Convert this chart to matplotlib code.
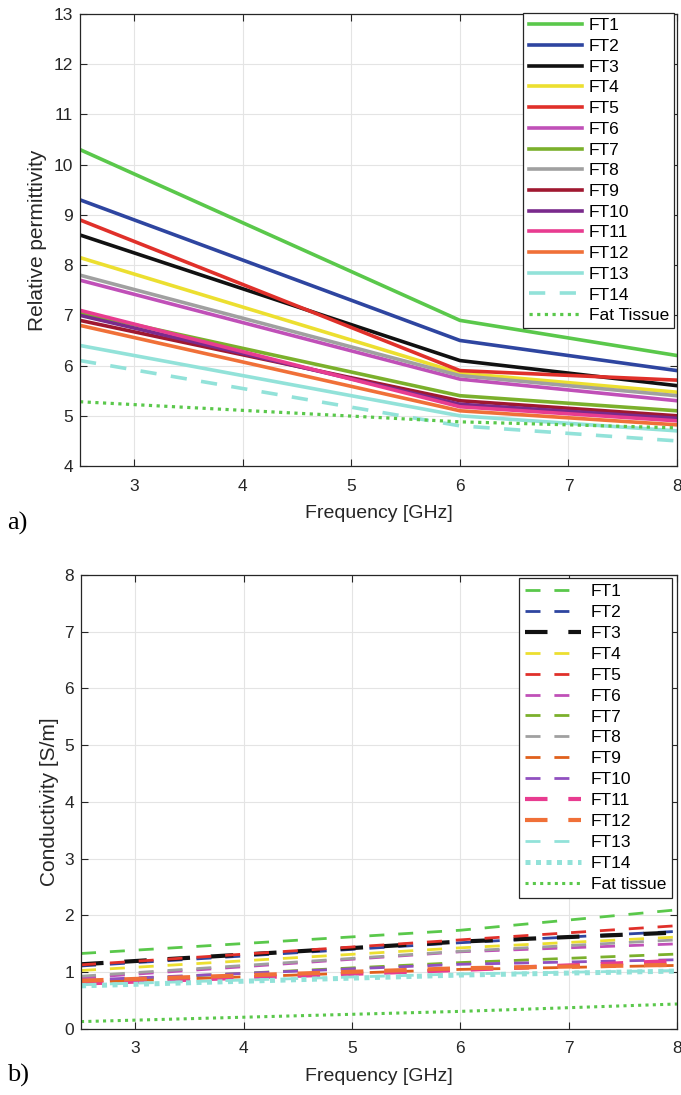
import matplotlib
matplotlib.use("Agg")
import matplotlib.pyplot as plt

plt.rcParams['font.family'] = ['Liberation Sans', 'DejaVu Sans']

freq = [2.5, 6, 8]
labels_top = ["FT1", "FT2", "FT3", "FT4", "FT5", "FT6", "FT7", "FT8", "FT9",
              "FT10", "FT11", "FT12", "FT13", "FT14", "Fat Tissue"]
labels_bot = ["FT1", "FT2", "FT3", "FT4", "FT5", "FT6", "FT7", "FT8", "FT9",
              "FT10", "FT11", "FT12", "FT13", "FT14", "Fat tissue"]

# Relative permittivity
perm_ft1 = [10.3, 6.9, 6.2]
perm_ft2 = [9.3, 6.5, 5.9]
perm_ft3 = [8.6, 6.1, 5.6]
perm_ft4 = [8.15, 5.85, 5.47]
perm_ft5 = [8.9, 5.9, 5.71]
perm_ft6 = [7.7, 5.73, 5.3]
perm_ft7 = [7.05, 5.4, 5.1]
perm_ft8 = [7.8, 5.8, 5.4]
perm_ft9 = [6.9, 5.3, 5.0]
perm_ft10 = [7.0, 5.23, 4.95]
perm_ft11 = [7.1, 5.18, 4.9]
perm_ft12 = [6.8, 5.1, 4.82]
perm_ft13 = [6.4, 5.0, 4.7]
perm_ft14 = [6.1, 4.8, 4.5]
perm_fat = [5.28, 4.88, 4.76]

# Conductivity
cond_ft1 = [1.33, 1.74, 2.10]
cond_ft2 = [1.11, 1.52, 1.72]
cond_ft3 = [1.14, 1.54, 1.70]
cond_ft4 = [1.03, 1.43, 1.62]
cond_ft5 = [1.13, 1.57, 1.82]
cond_ft6 = [0.90, 1.36, 1.50]
cond_ft7 = [0.84, 1.17, 1.32]
cond_ft8 = [0.93, 1.37, 1.57]
cond_ft9 = [0.82, 1.05, 1.12]
cond_ft10 = [0.86, 1.14, 1.22]
cond_ft11 = [0.80, 1.04, 1.20]
cond_ft12 = [0.85, 1.07, 1.13]
cond_ft13 = [0.78, 0.97, 1.03]
cond_ft14 = [0.76, 0.95, 1.02]
cond_fat = [0.13, 0.31, 0.44]

perm = [perm_ft1, perm_ft2, perm_ft3, perm_ft4, perm_ft5, perm_ft6, perm_ft7, perm_ft8,
        perm_ft9, perm_ft10, perm_ft11, perm_ft12, perm_ft13, perm_ft14, perm_fat]
cond = [cond_ft1, cond_ft2, cond_ft3, cond_ft4, cond_ft5, cond_ft6, cond_ft7, cond_ft8,
        cond_ft9, cond_ft10, cond_ft11, cond_ft12, cond_ft13, cond_ft14, cond_fat]

colors_top = ['#5ac84b', '#2e45a0', '#111111', '#ecdf30', '#e0302a', '#c050b8',
              '#7bb02c', '#a0a0a0', '#a01830', '#7a2a8c', '#e83c90', '#f07038',
              '#92e2d9', '#92e2d9', '#5ac84b']
colors_bot = ['#5ac84b', '#2e45a0', '#111111', '#ecdf30', '#e0302a', '#c050b8',
              '#7bb02c', '#a0a0a0', '#e0601c', '#9050c0', '#e83c90', '#f07038',
              '#92e2d9', '#92e2d9', '#5ac84b']

fig = plt.figure(figsize=(6.81, 10.95), dpi=100)
ax1 = fig.add_axes([0.1175, 0.5744, 0.8767, 0.4128])
ax2 = fig.add_axes([0.1190, 0.0603, 0.8752, 0.4146])

dash_top = (0, (4.5, 4.0))
for i in range(15):
    if i == 13:
        ls, lw = dash_top, 2.6
    elif i == 14:
        ls, lw = (0, (1, 1.4)), 2.3
    else:
        ls, lw = '-', 2.6
    ax1.plot(freq, perm[i], color=colors_top[i], lw=lw, linestyle=ls, label=labels_top[i])

dash_bot = (0, (5.4, 5.0))
for i in range(15):
    if i in (2, 10, 11):
        ls, lw = dash_bot, 3.0
    elif i == 13:
        ls, lw = (0, (1, 1.1)), 3.6
    elif i == 14:
        ls, lw = (0, (1, 1.4)), 2.2
    else:
        ls, lw = dash_bot, 2.0
    ax2.plot(freq, cond[i], color=colors_bot[i], lw=lw, linestyle=ls, label=labels_bot[i])

for ax in (ax1, ax2):
    ax.set_xlim(2.5, 8)
    ax.set_xticks([3, 4, 5, 6, 7, 8])
    ax.grid(True, color='#e4e4e4', lw=0.8)
    ax.set_axisbelow(True)
    ax.tick_params(direction='in', length=5, width=0.8, top=True, right=True,
                   labelsize=12.5, colors='#262626')
    ax.tick_params(axis='x', pad=9)
    ax.tick_params(axis='y', pad=5)
    for s in ax.spines.values():
        s.set_color('#262626')
        s.set_linewidth(0.9)
    ax.set_xlabel('Frequency [GHz]', fontsize=14, color='#262626', labelpad=8)

ax1.set_ylim(4, 13)
ax1.set_yticks(range(4, 14))
ax1.set_ylabel('Relative permittivity', fontsize=15, color='#262626', labelpad=5)
ax2.set_ylim(0, 8)
ax2.set_yticks(range(0, 9))
ax2.set_ylabel('Conductivity [S/m]', fontsize=15, color='#262626', labelpad=4)

leg1 = ax1.legend(loc='upper right', bbox_to_anchor=(674 / 681, 1 - 13 / 1095),
                  bbox_transform=fig.transFigure, borderaxespad=0,
                  fontsize=12.5, handlelength=3.1, handletextpad=0.35,
                  labelspacing=0.32, borderpad=0.3, fancybox=False,
                  framealpha=1, edgecolor='#262626')
leg1.get_frame().set_linewidth(0.9)
leg2 = ax2.legend(loc='upper right', bbox_to_anchor=(672 / 681, 1 - 578 / 1095),
                  bbox_transform=fig.transFigure, borderaxespad=0,
                  fontsize=12.5, handlelength=3.2, handletextpad=0.55,
                  labelspacing=0.33, borderpad=0.35, fancybox=False,
                  framealpha=1, edgecolor='#262626')
leg2.get_frame().set_linewidth(0.9)

fig.text(7 / 681, 1 - 530 / 1095, 'a)', fontsize=19, family=['Liberation Serif', 'DejaVu Serif'],
         ha='left', va='baseline')
fig.text(7 / 681, 1 - 1082 / 1095, 'b)', fontsize=19, family=['Liberation Serif', 'DejaVu Serif'],
         ha='left', va='baseline')

fig.savefig('out.png', dpi=100)
